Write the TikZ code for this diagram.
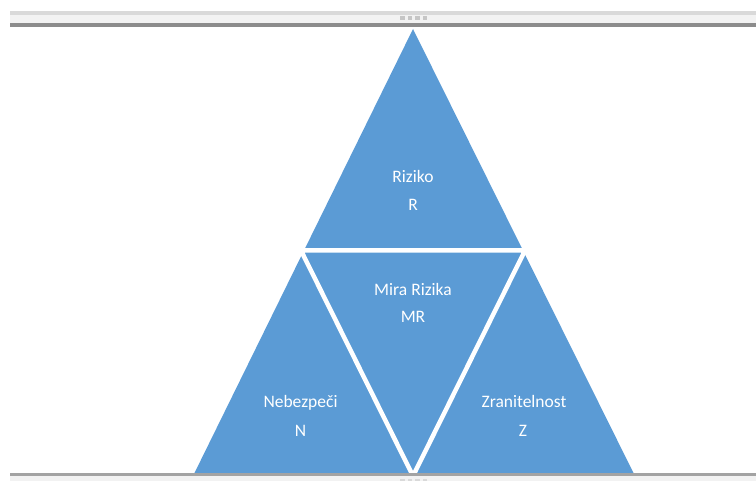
\documentclass[tikz,border=0pt]{standalone}
\usepackage{fontspec}
\setmainfont{Carlito}
\definecolor{tblue}{HTML}{5B9BD5}
\definecolor{barlight}{HTML}{F2F2F2}
\definecolor{barmid}{HTML}{D9D9D9}
\definecolor{bardark}{HTML}{8C8C8C}
\begin{document}
\begin{tikzpicture}[x=1pt,y=-1pt,
  lbl/.style={text=white,font=\fontsize{17.5}{20}\selectfont,anchor=base,inner sep=0pt},
  sep/.style={draw=white,line width=4.5pt,line join=miter}]
\useasboundingbox[fill=white] (0,0) rectangle (756,481);
% outer triangle
\coordinate (apex) at (413,29);
\coordinate (bl) at (193,476);
\coordinate (br) at (635,476);
\coordinate (ml) at (301,250.5);
\coordinate (mr) at (525,250.5);
\coordinate (bm) at (413,476);
\fill[tblue] (apex) -- (bl) -- (br) -- cycle;
\draw[sep] (ml) -- (mr) -- (bm) -- cycle;
% top bar
\fill[barmid] (10,11) rectangle (756,15);
\fill[barlight] (10,15) rectangle (756,23);
\fill[bardark] (10,23.5) rectangle (756,27);
\foreach \i in {0,1,2,3} \fill[gray!45] (400+\i*7.5,16.5) rectangle +(4.5,4);
% bottom bar
\fill[barlight] (10,476) rectangle (756,481);
\fill[bardark!80] (10,472.5) rectangle (756,476);
\foreach \i in {0,1,2,3} \fill[gray!30] (400+\i*7.5,478.5) rectangle +(4.5,2.5);
% labels
\node[lbl] (r1) at (413,183) {Riziko};
\node[lbl] (r2) at (413,211) {R};
\node[lbl] (m1) at (413,296) {Mira Rizika};
\node[lbl] (m2) at (413,323) {MR};
\node[lbl] (n1) at (300.5,408) {Nebezpeči};
\node[lbl] (n2) at (300.5,436) {N};
\node[lbl] (z1) at (524,408) {Zranitelnost};
\node[lbl] (z2) at (523,436) {Z};
\end{tikzpicture}
\end{document}
